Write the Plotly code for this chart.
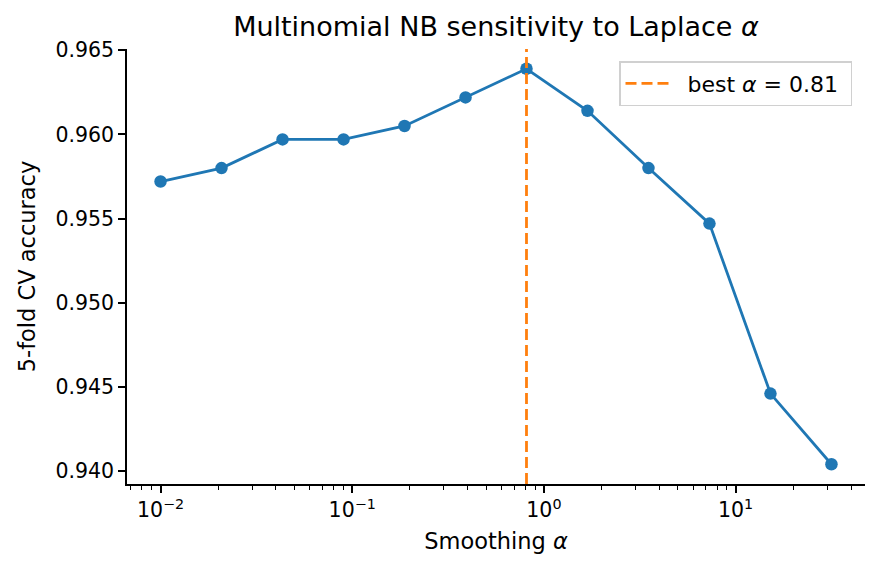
import numpy as np
import plotly.graph_objects as go

alphas = [0.01, 0.0208, 0.0433, 0.0901, 0.1874, 0.390, 0.811, 1.688, 3.511, 7.305, 15.20, 31.62]
accuracy = [0.9572, 0.9580, 0.9597, 0.9597, 0.9605, 0.9622, 0.9639, 0.9614, 0.9580, 0.9547, 0.9446, 0.9404]
xtick_vals = [0.01, 0.1, 1, 10]
xtick_text = ["10<sup>−2</sup>", "10<sup>−1</sup>", "10<sup>0</sup>", "10<sup>1</sup>"]
ytick_vals = [0.940, 0.945, 0.950, 0.955, 0.960, 0.965]

best_i = int(np.argmax(accuracy))
best_alpha = alphas[best_i]

FONT = "DejaVu Sans"
BLUE = "#1f77b4"
ORANGE = "#ff7f0e"

lx = np.log10(alphas)
xpad = 0.05 * (lx.max() - lx.min())
ypad = 0.05 * (max(accuracy) - min(accuracy))

fig = go.Figure()
fig.add_trace(go.Scatter(
    x=alphas, y=accuracy, mode="lines+markers",
    line=dict(color=BLUE, width=2.8),
    marker=dict(color=BLUE, size=12.5),
    showlegend=False,
))
fig.add_shape(type="line", xref="x", yref="y domain",
              x0=best_alpha, x1=best_alpha, y0=0, y1=1,
              line=dict(color=ORANGE, width=2.8, dash="11px,5px"))
fig.add_trace(go.Scatter(
    x=[None], y=[None], mode="lines",
    line=dict(color=ORANGE, width=2.8, dash="11px,5px"),
    name=f"\u00a0\u00a0best <i>α</i> = {best_alpha:.2f}\u00a0",
    showlegend=True,
))

axis_common = dict(
    showline=True, linecolor="black", linewidth=1.6, mirror=False,
    ticks="outside", ticklen=7, tickwidth=1.6, tickcolor="black",
    showgrid=False, zeroline=False,
    tickfont=dict(family=FONT, size=20.5, color="black"),
)

fig.update_layout(
    width=879, height=574,
    margin=dict(l=127, r=14, t=49, b=90, autoexpand=False),
    paper_bgcolor="white", plot_bgcolor="white",
    font=dict(family=FONT, color="black"),
    title=dict(text="Multinomial NB sensitivity to Laplace <i>α</i>",
               x=(127 + 865) / 2 / 879, xanchor="center",
               y=1 - 27 / 574, yanchor="middle",
               font=dict(family=FONT, size=27, color="black")),
    xaxis=dict(
        type="log",
        range=[lx.min() - xpad, lx.max() + xpad],
        tickvals=xtick_vals, ticktext=xtick_text,
        minor=dict(ticks="outside", ticklen=4, tickwidth=1.2, tickcolor="black",
                   dtick="D1", showgrid=False),
        title=dict(text="Smoothing <i>α</i>", font=dict(family=FONT, size=22.5), standoff=12),
        **axis_common,
    ),
    yaxis=dict(
        range=[min(accuracy) - ypad, max(accuracy) + ypad],
        tickvals=ytick_vals, tickformat=".3f",
        title=dict(text="5-fold CV accuracy", font=dict(family=FONT, size=22.5), standoff=14),
        **axis_common,
    ),
    legend=dict(
        x=(852 - 127) / 738, xref="paper", xanchor="right",
        y=(483.5 - 61) / 434.5, yref="paper", yanchor="top",
        bgcolor="white", bordercolor="#d0d0d0", borderwidth=1.5,
        itemwidth=43,
        font=dict(family=FONT, size=22, color="black"),
    ),
)

fig.write_html("out.html")
